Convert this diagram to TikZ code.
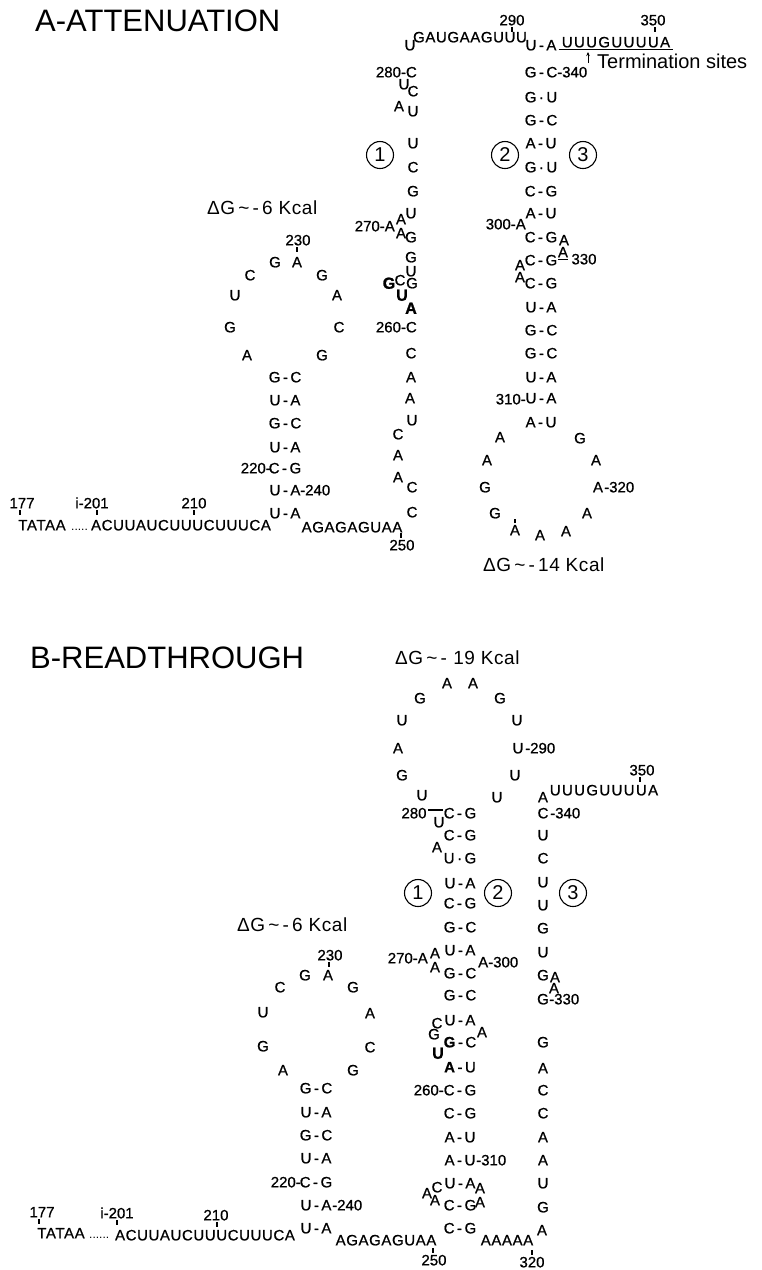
\documentclass[tikz,border=0pt]{standalone}
\usepackage{fontspec}
\setmainfont{Liberation Sans}
\usetikzlibrary{arrows.meta}
\newcommand\pairD[2]{{#1}\,-\,{#2}}
\newcommand\pairW[2]{{#1}\,\textperiodcentered\,{#2}}
\begin{document}
\begin{tikzpicture}[x=1pt,y=-1pt,
  nt/.style={inner sep=0pt, font=\fontsize{15}{15}\selectfont\addfontfeature{FakeBold=0.8}, text height=10.7pt, text depth=0pt},
  bnt/.style={nt, font=\fontsize{16}{16}\selectfont\bfseries\addfontfeature{FakeBold=1.5}, text height=11.5pt},
  seq/.style={nt, font=\fontsize{15}{15}\selectfont\addfontfeature{LetterSpace=4,FakeBold=0.8}},
  wseq/.style={nt, font=\fontsize{15}{15}\selectfont\addfontfeature{LetterSpace=9,FakeBold=0.8}},
  lw/.style={nt, anchor=west},
  le/.style={nt, anchor=east},
  ttl/.style={inner sep=0pt, anchor=west, font=\fontsize{31}{31}\selectfont, text height=22.2pt, text depth=0pt},
  dg/.style={inner sep=0pt, anchor=west, font=\fontsize{19}{19}\selectfont\addfontfeature{LetterSpace=3}, text height=13.6pt, text depth=0pt},
  circ/.style={draw, circle, line width=1.1pt, minimum size=27pt, inner sep=0pt, font=\fontsize{20}{20}\selectfont},
  tick/.style={line width=1.1pt},
  dots/.style={inner sep=0pt, anchor=base west, font=\fontsize{12}{12}\selectfont},
]
\useasboundingbox (0,0) rectangle (762,1270);

%%%%%%%%%%%%%%%% PART A %%%%%%%%%%%%%%%%
\node[ttl] (atitle) at (35,20) {A-ATTENUATION};

\foreach \n/\x/\y/\t in {
 s1/410/45/U, s2/404/84/U, s3/413/91/C, s4/399/106/A, s5/413/111/U,
 s6/413/143/U, s7/413/167/C, s8/413/191/G, s9/411/213/U, s10/401/219/A,
 s11/401/233/A, s12/411/237/G, s13/411/257/G, s14/411/271/U, s15/412/283/G,
 s16/400/280/C, s17/411/353/C, s18/411/377/A, s19/410/398/A, s20/412/420/U,
 s21/398/434/C, s22/398/455/A, s23/398/477/A, s24/412/487/C, s25/412/512/C,
 s26/564/240/A, s27/563/252/A, s28/520/265/A, s29/520/277/A,
 s30/500/437/A, s31/580/438/G, s32/487/460/A, s33/596/460/A, s34/485/487/G,
 s35/598/487/A, s36/495/513/G, s37/587/513/A, s38/515/530/A, s39/540/535/A,
 s40/566/531/A,
 s41/275/262/G, s42/297/262/A, s43/250/275/C, s44/322/275/G, s45/235/295/U,
 s46/337/295/A, s47/230/327/G, s48/339/327/C, s49/247/355/A, s50/322/355/G}
 \node[nt] (a\n) at (\x,\y) {\t};

\foreach \n/\x/\y/\t in {b1/389/283/G, b2/402/295/U, b3/411/308/A}
 \node[bnt] (a\n) at (\x,\y) {\t};

\foreach \n/\x/\y/\t in {
 n290/512/20/290, n350/653/20/350, n330/584/259/330, n230/298/240/230,
 n177/22/503/177, n201/92/503/i-201, n210/194/503/210, n250/402/545/250}
 \node[nt] (a\n) at (\x,\y) {\t};

\foreach \n/\y/\t in {
 1/45/\pairD UA, 2/72/\pairD GC, 3/97/\pairW GU, 4/120/\pairD GC,
 5/143/\pairD AU, 6/167/\pairW GU, 7/191/\pairD CG, 8/213/\pairD AU,
 9/237/\pairD CG, 10/260/\pairD CG, 11/283/\pairD CG, 12/307/\pairD UA,
 13/330/\pairD GC, 14/353/\pairD GC, 15/377/\pairD UA, 16/398/\pairD UA,
 17/422/\pairD AU}
 \node[nt] (ap\n) at (541,\y) {\t};

\foreach \n/\y/\t in {
 1/377/\pairD GC, 2/400/\pairD UA, 3/423/\pairD GC, 4/447/\pairD UA,
 5/468/\pairD CG, 6/490/\pairD UA, 7/513/\pairD UA}
 \node[nt] (aq\n) at (285,\y) {\t};

\foreach \n/\x/\y/\t in {w1/557/72/-340, w2/604/487/-320, w3/300/490/-240}
 \node[lw] (a\n) at (\x,\y) {\t};
\foreach \n/\x/\y/\t in {e1/417/72/280-C, e2/395/226/270-A, e3/417/327/260-C,
 e4/526/224/300-A, e5/526/399/310-, e6/271/468/220-}
 \node[le] (a\n) at (\x,\y) {\t};

\node[seq] (aseq1) at (470,37) {GAUGAAGUUU};
\node[wseq] (aseq2) at (616,42) {UUUGUUUUA};
\node[seq] (aseq3) at (42,525) {TATAA};
\node[dots] (adots) at (71,530.3) {.....};
\node[seq] (aseq4) at (181,525) {ACUUAUCUUUCUUUCA};
\node[seq] (aseq5) at (352,527) {AGAGAGUAA};

\node[dg] (adg1) at (207,208) {ΔG\,\textasciitilde\,-\,6 Kcal};
\node[dg] (adg2) at (483,565) {ΔG\,\textasciitilde\,-\,14 Kcal};

\node[circ] (ac1) at (380,155) {1};
\node[circ] (ac2) at (505,155) {2};
\node[circ] (ac3) at (583,155) {3};

\node[inner sep=0pt, anchor=west, font=\fontsize{20}{20}\selectfont] (aterm) at (597,61) {Termination sites};
\draw[line width=1.3pt] ([xshift=-3pt,yshift=-2pt]aseq2.south west) -- ([xshift=3pt,yshift=-2pt]aseq2.south east);
\draw[line width=1pt,-{Stealth[length=4pt,width=3.5pt]}] ([xshift=-9pt,yshift=-2pt]aterm.west) -- ([xshift=-9pt,yshift=9pt]aterm.west);

\draw[tick] ([yshift=-1.5pt]an290.south) -- ++(0,4.5);
\draw[tick] ([xshift=2pt,yshift=-1.5pt]an350.south) -- ++(0,4.5);
\draw[tick] ([xshift=-1pt,yshift=-1.5pt]an230.south) -- ++(0,4.5);
\draw[tick] ([xshift=-2pt,yshift=-1.5pt]an177.south) -- ++(0,4.5);
\draw[tick] ([xshift=5pt,yshift=-1.5pt]an201.south) -- ++(0,4.5);
\draw[tick] ([yshift=-1.5pt]an210.south) -- ++(0,4.5);
\draw[tick] ([xshift=-1pt,yshift=1.5pt]an250.north) -- ++(0,-4.5);
\draw[tick] ([yshift=1pt]as38.north) -- ++(0,-4);
\draw[tick] ([yshift=-1.5pt]as27.south west) -- ([yshift=-1.5pt]as27.south east);

%%%%%%%%%%%%%%%% PART B %%%%%%%%%%%%%%%%
\node[ttl] (btitle) at (30,657) {B-READTHROUGH};

\foreach \n/\x/\y/\t in {
 s1/447/683/A, s2/473/683/A, s3/420/698/G, s4/500/698/G, s5/402/720/U,
 s6/517/720/U, s7/398/748/A, s8/518/748/U, s9/402/775/G, s10/515/775/U,
 s11/422/795/U, s12/497/797/U,
 s13/439/822/U, s14/437/847/A, s15/435/953/A, s16/435/967/A, s17/437/1023/C,
 s18/482/1032/A, s19/434/1034/G, s20/427/1193/A, s21/437/1187/C, s22/480/1188/A,
 s23/435/1200/A, s24/480/1202/A,
 c1/543/797/A, c2/543/813/C, c3/543/835/U, c4/543/858/C, c5/543/882/U,
 c6/543/905/U, c7/543/928/G, c8/543/952/U, c9/543/975/G, c10/555/977/A,
 c11/554/988/A, c12/543/999/G, c13/543/1042/G, c14/543/1068/A, c15/543/1090/C,
 c16/543/1113/C, c17/543/1137/A, c18/543/1160/A, c19/543/1183/U, c20/543/1207/G,
 c21/542/1230/A,
 h1/305/975/G, h2/328/975/A, h3/280/987/C, h4/353/987/G, h5/263/1012/U,
 h6/370/1013/A, h7/263/1046/G, h8/370/1047/C, h9/283/1070/A, h10/353/1070/G}
 \node[nt] (b\n) at (\x,\y) {\t};

\node[bnt] (bb1) at (438,1053) {U};

\foreach \n/\x/\y/\t in {
 n280/414/813/280, n350/642/770/350, n230/330/955/230, n177/42/1212/177,
 n201/117/1213/i-201, n210/216/1215/210, n250/434/1260/250, n320/532/1262/320}
 \node[nt] (b\n) at (\x,\y) {\t};

\foreach \n/\y/\t in {
 1/813/\pairD CG, 2/835/\pairD CG, 3/858/\pairW UG, 4/883/\pairD UA,
 5/903/\pairD CG, 6/927/\pairD GC, 7/950/\pairD UA, 8/973/\pairD GC,
 9/995/\pairD GC, 10/1020/\pairD UA, 11/1042/\pairD{\bfseries G}C,
 12/1067/\pairD{\bfseries A}U, 13/1090/\pairD CG, 14/1113/\pairD CG,
 15/1137/\pairD AU, 16/1160/\pairD AU, 17/1183/\pairD UA, 18/1205/\pairD CG,
 19/1228/\pairD CG}
 \node[nt] (bp\n) at (460,\y) {\t};

\foreach \n/\y/\t in {
 1/1088/\pairD GC, 2/1112/\pairD UA, 3/1135/\pairD GC, 4/1158/\pairD UA,
 5/1182/\pairD CG, 6/1205/\pairD UA, 7/1228/\pairD UA}
 \node[nt] (bq\n) at (316,\y) {\t};

\foreach \n/\x/\y/\t in {w1/525/748/-290, w2/550/813/-340, w3/478/962/A-300,
 w4/549/999/-330, w5/476/1160/-310, w6/332/1205/-240}
 \node[lw] (b\n) at (\x,\y) {\t};
\foreach \n/\x/\y/\t in {e1/428/958/270-A, e2/444/1090/260-, e3/301/1182/220-}
 \node[le] (b\n) at (\x,\y) {\t};

\node[wseq] (bseq1) at (604,790) {UUUGUUUUA};
\node[seq] (bseq2) at (61,1233) {TATAA};
\node[dots] (bdots) at (89,1238.3) {......};
\node[seq] (bseq3) at (205,1235) {ACUUAUCUUUCUUUCA};
\node[seq] (bseq4) at (386,1240) {AGAGAGUAA};
\node[seq] (bseq5) at (507,1240) {AAAAA};

\node[dg] (bdg1) at (395,658) {ΔG\,\textasciitilde\,-\,\,19 Kcal};
\node[dg] (bdg2) at (237,925) {ΔG\,\textasciitilde\,-\,6 Kcal};

\node[circ] (bc1) at (418,893) {1};
\node[circ] (bc2) at (498,893) {2};
\node[circ] (bc3) at (573,893) {3};

\draw[line width=1.2pt] ([xshift=1.5pt,yshift=3pt]bn280.east) -- ([xshift=-1pt,yshift=3pt]bp1.west);

\draw[tick] ([xshift=-2pt,yshift=-1.5pt]bn350.south) -- ++(0,4.5);
\draw[tick] ([xshift=-1pt,yshift=-1.5pt]bn230.south) -- ++(0,4.5);
\draw[tick] ([xshift=-3pt,yshift=-1.5pt]bn177.south) -- ++(0,4.5);
\draw[tick] ([yshift=-1.5pt]bn201.south) -- ++(0,4.5);
\draw[tick] ([xshift=1pt,yshift=-1.5pt]bn210.south) -- ++(0,4.5);
\draw[tick] ([xshift=-1pt,yshift=1.5pt]bn250.north) -- ++(0,-4.5);
\draw[tick] ([yshift=1.5pt]bn320.north) -- ++(0,-4.5);
\end{tikzpicture}
\end{document}
